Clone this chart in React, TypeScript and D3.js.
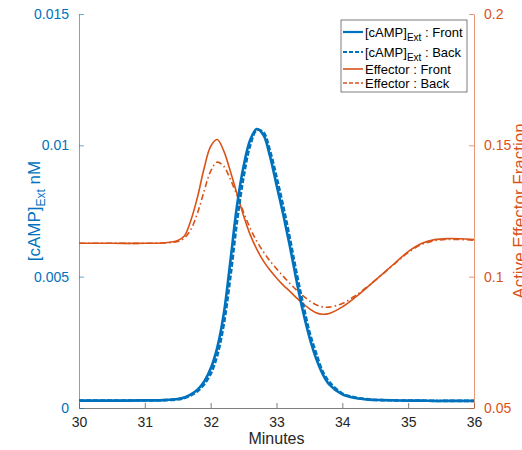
import React, { useEffect, useRef } from "react";
import * as d3 from "d3";

// minutes sampled along the trace
const minutes = [30, 30.5, 31, 31.3, 31.5, 31.6, 31.7, 31.8, 31.9, 32.0, 32.1, 32.2, 32.3, 32.4, 32.5, 32.6, 32.7, 32.8, 32.9, 33.0, 33.1, 33.2, 33.3, 33.4, 33.5, 33.6, 33.7, 33.8, 34.0, 34.2, 34.4, 34.6, 34.8, 35.0, 35.2, 35.4, 35.6, 36.0];

const campFront = [0.00028, 0.00028, 0.00029, 0.0003, 0.00034, 0.0004, 0.00052, 0.0007, 0.001, 0.0015, 0.0023, 0.0036, 0.0056, 0.0077, 0.0092, 0.0102, 0.01062, 0.0104, 0.0096, 0.0085, 0.0074, 0.0062, 0.0049, 0.0037, 0.0027, 0.0019, 0.0013, 0.0009, 0.00052, 0.00038, 0.00032, 0.0003, 0.00029, 0.00028, 0.00028, 0.00027, 0.00027, 0.00027];
const campBack = [0.00028, 0.00028, 0.00029, 0.0003, 0.00033, 0.00038, 0.00048, 0.00064, 0.0009, 0.0013, 0.002, 0.0032, 0.005, 0.0071, 0.0088, 0.01, 0.01058, 0.0105, 0.0098, 0.0088, 0.0077, 0.0065, 0.0052, 0.004, 0.0029, 0.0021, 0.0014, 0.001, 0.00055, 0.0004, 0.00033, 0.0003, 0.00029, 0.00028, 0.00028, 0.00027, 0.00027, 0.00027];
const effFront = [0.1127, 0.1127, 0.1127, 0.1129, 0.1138, 0.1155, 0.1215, 0.1303, 0.1412, 0.1496, 0.1522, 0.1478, 0.14, 0.1315, 0.1232, 0.116, 0.1105, 0.106, 0.1025, 0.0995, 0.0968, 0.0945, 0.092, 0.0898, 0.0878, 0.0863, 0.0857, 0.086, 0.0885, 0.0922, 0.0964, 0.1008, 0.1052, 0.1095, 0.1126, 0.1141, 0.1145, 0.1141];
const effBack = [0.1127, 0.1127, 0.1127, 0.1128, 0.1134, 0.1147, 0.118, 0.1242, 0.1325, 0.1402, 0.1436, 0.142, 0.137, 0.131, 0.1245, 0.1185, 0.1135, 0.1095, 0.106, 0.103, 0.1002, 0.0975, 0.095, 0.0928, 0.0908, 0.0893, 0.0885, 0.0884, 0.0898, 0.0928, 0.0966, 0.1007, 0.105, 0.1092, 0.1122, 0.1137, 0.1142, 0.1139];

const xTicks = [30, 31, 32, 33, 34, 35, 36];
const leftTicks = [0, 0.005, 0.01, 0.015];
const rightTicks = [0.05, 0.1, 0.15, 0.2];

const BLUE = "#0072BD";
const ORANGE = "#D95319";
const FONT = "'Liberation Sans', Arial, Helvetica, sans-serif";

const App = () => {
  const ref = useRef<SVGSVGElement>(null);

  useEffect(() => {
    drawChart();
  }, []);

  function drawChart() {
    const svg = d3.select(ref.current);
    svg.selectAll("*").remove();

    const left = 79, right = 474, top = 14, bottom = 408;

    const xScale = d3.scaleLinear().domain([30, 36]).range([left, right]);
    const yLeft = d3.scaleLinear().domain([0, 0.015]).range([bottom, top]);
    const yRight = d3.scaleLinear().domain([0.05, 0.2]).range([bottom, top]);

    const fmt = (d: any) => String(+d.toFixed(4));

    // bottom axis
    const xAxis = svg
      .append("g")
      .attr("transform", `translate(0,${bottom})`)
      .call(d3.axisBottom(xScale).tickValues(xTicks).tickFormat(d3.format("d") as any).tickSize(-5).tickPadding(9).tickSizeOuter(0) as any);
    xAxis.select(".domain").attr("stroke", "#262626").attr("stroke-width", 0.6);
    xAxis.selectAll(".tick line").attr("stroke", "#262626").attr("stroke-width", 0.6);
    xAxis.selectAll("text").attr("fill", "#262626").attr("font-size", 14).attr("font-family", FONT);

    // left axis
    const yAxisL = svg
      .append("g")
      .attr("transform", `translate(${left},0)`)
      .call(d3.axisLeft(yLeft).tickValues(leftTicks).tickFormat(fmt).tickSize(-5).tickPadding(10).tickSizeOuter(0) as any);
    yAxisL.select(".domain").attr("stroke", BLUE).attr("stroke-width", 0.6);
    yAxisL.selectAll(".tick line").attr("stroke", BLUE).attr("stroke-width", 0.6);
    yAxisL.selectAll("text").attr("fill", BLUE).attr("font-size", 14).attr("font-family", FONT);

    // right axis
    const yAxisR = svg
      .append("g")
      .attr("transform", `translate(${right},0)`)
      .call(d3.axisRight(yRight).tickValues(rightTicks).tickFormat(fmt).tickSize(-5).tickPadding(10).tickSizeOuter(0) as any);
    yAxisR.select(".domain").attr("stroke", ORANGE).attr("stroke-width", 0.6);
    yAxisR.selectAll(".tick line").attr("stroke", ORANGE).attr("stroke-width", 0.6);
    yAxisR.selectAll("text").attr("fill", ORANGE).attr("font-size", 14).attr("font-family", FONT);

    const lineL = d3
      .line<number>()
      .x((d, i) => xScale(minutes[i]))
      .y((d) => yLeft(d))
      .curve(d3.curveCatmullRom.alpha(0.5));
    const lineR = d3
      .line<number>()
      .x((d, i) => xScale(minutes[i]))
      .y((d) => yRight(d))
      .curve(d3.curveCatmullRom.alpha(0.5));

    const plot = svg.append("g");
    plot.append("path").datum(effFront).attr("fill", "none").attr("stroke", ORANGE).attr("stroke-width", 1.6).attr("d", lineR);
    plot.append("path").datum(effBack).attr("fill", "none").attr("stroke", ORANGE).attr("stroke-width", 1.6).attr("stroke-dasharray", "6,3,1.5,3").attr("d", lineR);
    plot.append("path").datum(campFront).attr("fill", "none").attr("stroke", BLUE).attr("stroke-width", 2.6).attr("d", lineL);
    plot.append("path").datum(campBack).attr("fill", "none").attr("stroke", BLUE).attr("stroke-width", 2.6).attr("stroke-dasharray", "5,2").attr("d", lineL);

    // axis labels
    svg
      .append("text")
      .attr("x", (left + right) / 2)
      .attr("y", 444)
      .attr("text-anchor", "middle")
      .attr("font-family", FONT)
      .attr("font-size", 16)
      .attr("fill", "#262626")
      .text("Minutes");

    const yl = svg
      .append("text")
      .attr("transform", `translate(40,${(top + bottom) / 2}) rotate(-90)`)
      .attr("text-anchor", "middle")
      .attr("font-family", FONT)
      .attr("font-size", 17)
      .attr("fill", BLUE);
    yl.append("tspan").text("[cAMP]");
    yl.append("tspan").attr("font-size", 12).attr("dy", 5).text("Ext");
    yl.append("tspan").attr("dy", -5).text(" nM");

    svg
      .append("text")
      .attr("transform", `translate(525,${(top + bottom) / 2}) rotate(-90)`)
      .attr("text-anchor", "middle")
      .attr("font-family", FONT)
      .attr("font-size", 17)
      .attr("fill", ORANGE)
      .text("Active Effector Fraction");

    // legend
    const lg = svg.append("g");
    lg.append("rect").attr("x", 341).attr("y", 20).attr("width", 126).attr("height", 72).attr("fill", "white").attr("stroke", "#262626").attr("stroke-width", 0.6);
    const entries = [
      { main: "[cAMP]", sub: "Ext", rest: " : Front", color: BLUE, dash: null, w: 2.2, y: 32 },
      { main: "[cAMP]", sub: "Ext", rest: " : Back", color: BLUE, dash: "4,2", w: 2.2, y: 52 },
      { main: "Effector : Front", sub: "", rest: "", color: ORANGE, dash: null, w: 1.6, y: 69 },
      { main: "Effector : Back", sub: "", rest: "", color: ORANGE, dash: "4,2", w: 1.6, y: 83 },
    ];
    entries.forEach((e) => {
      lg.append("line").attr("x1", 343).attr("x2", 363).attr("y1", e.y).attr("y2", e.y).attr("stroke", e.color).attr("stroke-width", e.w).attr("stroke-dasharray", e.dash);
      const t = lg.append("text").attr("x", 365).attr("y", e.y + 4.5).attr("font-family", FONT).attr("font-size", 13).attr("fill", "#000");
      t.append("tspan").text(e.main);
      if (e.sub) {
        t.append("tspan").attr("font-size", 10).attr("dy", 4).text(e.sub);
        t.append("tspan").attr("dy", -4).text(e.rest);
      }
    });
  }

  return (
    <svg
      ref={ref}
      width={522}
      height={450}
      style={{ position: "absolute", left: 0, top: 0, background: "white" }}
    />
  );
};

export default App;
